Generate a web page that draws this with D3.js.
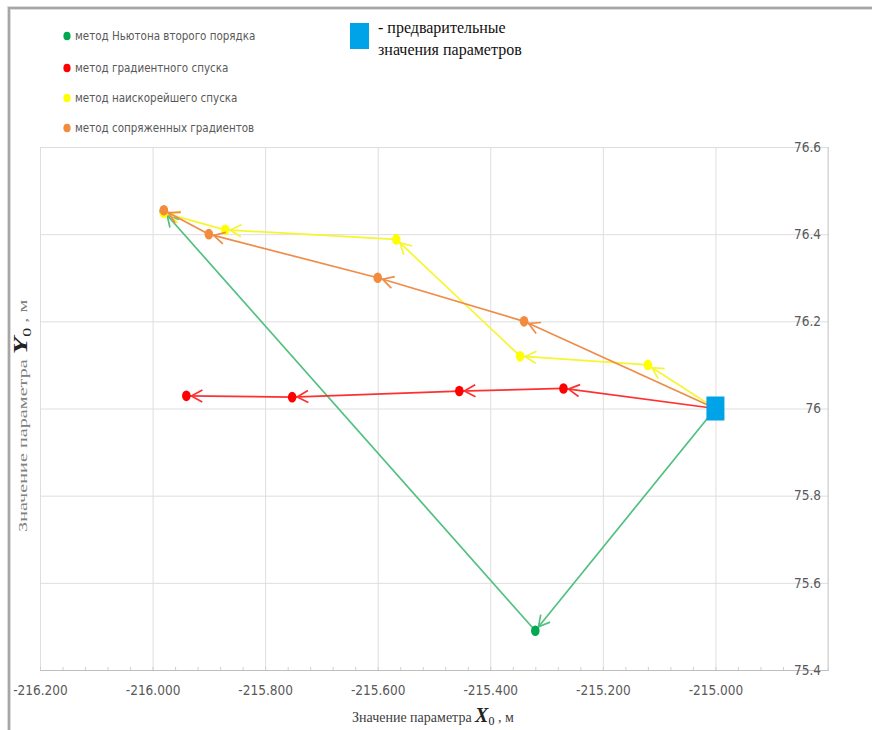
<!DOCTYPE html>
<html>
<head>
<meta charset="utf-8">
<title>Траектории методов оптимизации</title>
<script src="https://d3js.org/d3.v7.min.js"></script>
<style>
  body { margin: 0; background: #fff; }
  .tick text { font-family: "DejaVu Sans Condensed", "Liberation Sans Narrow", sans-serif; font-size: 13.5px; fill: #595959; }
  .legend text { font-family: "DejaVu Sans Condensed", "Liberation Sans Narrow", sans-serif; font-size: 11.5px; fill: #595959; }
  .serif { font-family: "Liberation Serif", "DejaVu Serif", serif; }
</style>
</head>
<body>
<script>
// --- data ---
var startX = -215.00, startY = 76.00;

var newtonX = [-215.00, -215.32, -215.98];
var newtonY = [76.00, 75.49, 76.452];

var gradX = [-215.00, -215.27, -215.455, -215.752, -215.94];
var gradY = [76.00, 76.046, 76.04, 76.026, 76.029];

var steepX = [-215.00, -215.12, -215.347, -215.567, -215.871, -215.98];
var steepY = [76.00, 76.10, 76.12, 76.388, 76.41, 76.449];

var conjX = [-215.00, -215.34, -215.60, -215.90, -215.98];
var conjY = [76.00, 76.20, 76.30, 76.40, 76.455];

var xTicks = [-216.2, -216.0, -215.8, -215.6, -215.4, -215.2, -215.0, -214.8];
var xLabels = [-216.2, -216.0, -215.8, -215.6, -215.4, -215.2, -215.0];
var yTicks = [75.4, 75.6, 75.8, 76.0, 76.2, 76.4, 76.6];

var legendNames = ["метод Ньютона второго порядка", "метод градиентного спуска",
                   "метод наискорейшего спуска", "метод сопряженных градиентов"];

var series = [
  {x: newtonX, y: newtonY, line: "#52c07f", dot: "#00a84f"},
  {x: gradX,   y: gradY,   line: "#ff3030", dot: "#ff0000"},
  {x: steepX,  y: steepY,  line: "#f7f530", dot: "#ffff00"},
  {x: conjX,   y: conjY,   line: "#ee8c48", dot: "#f28b3c"}
];

var width = 872, height = 730;
var mLeft = 40, mRight = 828, mTop = 147, mBottom = 670;

var x = d3.scaleLinear().domain([-216.2, -214.8]).range([mLeft, mRight]);
var y = d3.scaleLinear().domain([75.4, 76.6]).range([mBottom, mTop]);

var svg = d3.select("body").append("svg")
    .attr("width", width)
    .attr("height", height);

// outer frame (top and left edges)
svg.append("path")
    .attr("d", "M9,730 L9,8 L872,8")
    .attr("fill", "none")
    .attr("stroke", "#dcdcdc")
    .attr("stroke-width", 4);
svg.append("path")
    .attr("d", "M9,730 L9,8 L872,8")
    .attr("fill", "none")
    .attr("stroke", "#a6a6a6")
    .attr("stroke-width", 2);

// grid
svg.append("g")
    .attr("transform", "translate(0," + mBottom + ")")
    .call(d3.axisBottom(x).tickValues(xTicks).tickSize(-(mBottom - mTop)).tickFormat(""))
    .call(function(g) {
      g.select(".domain").remove();
      g.selectAll("line").attr("stroke", "#dedede");
    });

svg.append("g")
    .attr("transform", "translate(" + mLeft + ",0)")
    .call(d3.axisLeft(y).tickValues(yTicks).tickSize(-(mRight - mLeft)).tickFormat(""))
    .call(function(g) {
      g.select(".domain").remove();
      g.selectAll("line").attr("stroke", "#dedede");
    });

// minor ticks on the bottom axis
var minor = d3.range(0, 36).map(function(i) { return -216.2 + i * 0.04; });
svg.append("g")
    .attr("transform", "translate(0," + mBottom + ")")
    .call(d3.axisTop(x).tickValues(minor).tickSize(3).tickFormat(""))
    .call(function(g) {
      g.select(".domain").attr("stroke", "#bfbfbf");
      g.selectAll("line").attr("stroke", "#cfcfcf");
    });

// right border
svg.append("line")
    .attr("x1", mRight).attr("x2", mRight)
    .attr("y1", mTop).attr("y2", mBottom)
    .attr("stroke", "#d0d0d0");

// x tick labels
svg.append("g")
    .attr("transform", "translate(0," + (mBottom + 12) + ")")
    .call(d3.axisBottom(x).tickValues(xLabels).tickSize(0)
      .tickFormat(function(d) { return d.toFixed(3); }))
    .call(function(g) { g.select(".domain").remove(); });

// y tick labels (inside, on the right)
svg.append("g")
    .attr("transform", "translate(" + (mRight - 7) + ",0)")
    .call(d3.axisLeft(y).tickValues(yTicks).tickSize(0).tickPadding(0)
      .tickFormat(function(d) { return +d.toFixed(1); }))
    .call(function(g) { g.select(".domain").remove(); });

// axis titles
var xt = svg.append("text")
    .attr("class", "serif")
    .attr("x", 352).attr("y", 722)
    .attr("font-size", 14)
    .attr("fill", "#404040");
xt.append("tspan").text("Значение параметра ");
xt.append("tspan").attr("font-size", 20).attr("font-style", "italic").attr("font-weight", "bold").attr("fill", "#222").text("X");
xt.append("tspan").attr("font-size", 12).attr("dy", 3).attr("fill", "#222").text("0");
xt.append("tspan").attr("dy", -3).text(" , м");

var yt = svg.append("text")
    .attr("class", "serif")
    .attr("transform", "translate(27,532) rotate(-90) scale(1.5,1)")
    .attr("font-size", 13.5)
    .attr("fill", "#808080");
yt.append("tspan").text("Значение параметра ");
yt.append("tspan").attr("font-size", 19).attr("font-style", "italic").attr("font-weight", "bold").attr("fill", "#222").text("Y");
yt.append("tspan").attr("font-size", 12).attr("dy", 4).attr("fill", "#222").text("0");
yt.append("tspan").attr("dy", -4).text("  ,  м");

// trajectories
var plot = svg.append("g");

function arrowHead(x0, y0, x1, y1, back) {
  var a = Math.atan2(y1 - y0, x1 - x0);
  var tx = x1 - Math.cos(a) * back, ty = y1 - Math.sin(a) * back;
  var L = 11, W = 6;
  var bx = tx - Math.cos(a) * L, by = ty - Math.sin(a) * L;
  var nx = -Math.sin(a) * W, ny = Math.cos(a) * W;
  return "M" + (bx + nx) + "," + (by + ny) + "L" + tx + "," + ty + "L" + (bx - nx) + "," + (by - ny);
}

series.forEach(function(s) {
  var g = plot.append("g");
  var segs = d3.range(s.x.length - 1);
  g.selectAll("line.seg")
    .data(segs)
    .enter().append("line")
      .attr("class", "seg")
      .attr("x1", function(i) { return x(s.x[i]); })
      .attr("y1", function(i) { return y(s.y[i]); })
      .attr("x2", function(i) { return x(s.x[i + 1]); })
      .attr("y2", function(i) { return y(s.y[i + 1]); })
      .attr("stroke", s.line)
      .attr("stroke-width", 1.7);
  g.selectAll("path.head")
    .data(segs)
    .enter().append("path")
      .attr("class", "head")
      .attr("d", function(i) {
        return arrowHead(x(s.x[i]), y(s.y[i]), x(s.x[i + 1]), y(s.y[i + 1]), 5);
      })
      .attr("fill", "none")
      .attr("stroke", s.line)
      .attr("stroke-width", 1.7);
  g.selectAll("ellipse")
    .data(d3.range(1, s.x.length))
    .enter().append("ellipse")
      .attr("cx", function(i) { return x(s.x[i]); })
      .attr("cy", function(i) { return y(s.y[i]); })
      .attr("rx", 4.3)
      .attr("ry", 5.3)
      .attr("fill", s.dot);
});

// starting point
svg.append("rect")
    .attr("x", x(startX) - 9).attr("y", y(startY) - 12)
    .attr("width", 18).attr("height", 24)
    .attr("fill", "#00a2e8");

// legend
var legend = svg.append("g").attr("class", "legend");
legend.selectAll("g")
  .data(legendNames)
  .enter().append("g")
    .attr("transform", function(d, i) { return "translate(67," + [36, 68, 98, 128][i] + ")"; })
    .each(function(d, i) {
      var g = d3.select(this);
      g.append("ellipse").attr("rx", 3.6).attr("ry", 4.3).attr("fill", series[i].dot);
      g.append("text").attr("x", 8).attr("dy", "0.35em").text(d);
    });

svg.append("rect")
    .attr("x", 350).attr("y", 23)
    .attr("width", 19).attr("height", 26)
    .attr("fill", "#00a2e8");
svg.append("text")
    .attr("class", "serif")
    .attr("x", 378).attr("y", 33)
    .attr("font-size", 16)
    .attr("fill", "#111")
    .text("- предварительные");
svg.append("text")
    .attr("class", "serif")
    .attr("x", 378).attr("y", 55)
    .attr("font-size", 16)
    .attr("fill", "#111")
    .text("значения параметров");
</script>
</body>
</html>
